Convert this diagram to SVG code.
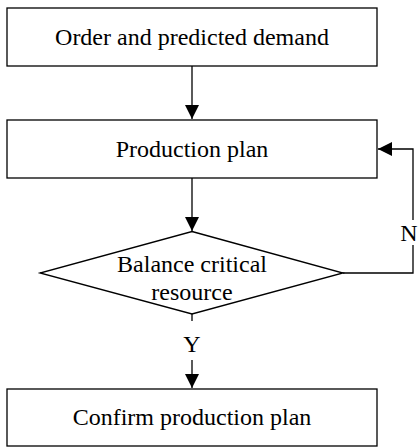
<svg xmlns="http://www.w3.org/2000/svg" width="418" height="447" viewBox="0 0 418 447">
<style>
.box{fill:#fff;stroke:#000;stroke-width:1.3}
.t{font-family:"Liberation Serif","Times New Roman",serif;font-size:24px;fill:#000;text-anchor:middle}
.c{fill:none;stroke:#000;stroke-width:1.3}
</style>
<defs>
<marker id="ah" viewBox="0 0 10 10" refX="10" refY="5" markerWidth="14" markerHeight="14" markerUnits="userSpaceOnUse" orient="auto">
<path d="M0,0 L10,5 L0,10 z" fill="#000"/>
</marker>
</defs>
<rect width="418" height="447" fill="#fff"/>
<g id="connectors">
<line class="c" x1="192" y1="66" x2="192" y2="119" marker-end="url(#ah)"/>
<line class="c" x1="192" y1="178" x2="192" y2="231" marker-end="url(#ah)"/>
<line class="c" x1="192" y1="314" x2="192" y2="321"/>
<line class="c" x1="192" y1="360" x2="192" y2="388" marker-end="url(#ah)"/>
<polyline class="c" points="343,273 413,273 413,245"/>
<polyline class="c" points="413,220 413,149 378,149" marker-end="url(#ah)"/>
<text class="t" x="192" y="352">Y</text>
<text class="t" x="409" y="241">N</text>
</g>
<g id="n1">
<rect class="box" x="7" y="8" width="370" height="58"/>
<text class="t" x="192" y="45">Order and predicted demand</text>
</g>
<g id="n2">
<rect class="box" x="7" y="120" width="370" height="58"/>
<text class="t" x="192" y="157">Production plan</text>
</g>
<g id="n3">
<polygon class="box" points="192,231.5 343,273 192,314 40,273"/>
<text class="t" x="192" y="272">Balance critical</text>
<text class="t" x="192" y="300">resource</text>
</g>
<g id="n4">
<rect class="box" x="7" y="389" width="370" height="57"/>
<text class="t" x="192" y="425">Confirm production plan</text>
</g>
</svg>
